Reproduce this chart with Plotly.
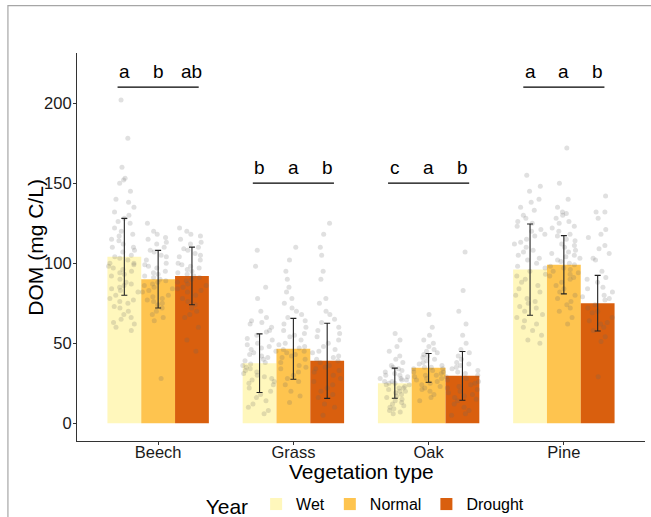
import plotly.graph_objects as go

categories = ["Beech", "Grass", "Oak", "Pine"]
years = ["Wet", "Normal", "Drought"]
colors = ["#FFF7BC", "#FEC44F", "#D95F0E"]

mean_wet = [104, 37.5, 25, 96]
mean_normal = [90, 46.5, 34.6, 99]
mean_drought = [92, 39, 29.6, 75]
sd_wet = [24, 18.3, 9.4, 28.5]
sd_normal = [18, 19, 9, 18.2]
sd_drought = [18, 23.5, 15.2, 17.4]

letters_wet = ["a", "b", "c", "a"]
letters_normal = ["b", "a", "a", "a"]
letters_drought = ["ab", "b", "b", "b"]
letter_y = [220, 160, 160, 220]
bracket_y = [210, 150, 150, 210]

beech_wet = [202, 178, 160, 153, 152, 150, 145, 140, 138, 135, 132, 130, 128, 126, 125, 122, 120,
             118, 117, 115, 114, 112, 110, 110, 108, 107, 105, 104, 103, 102, 100, 100, 99, 98, 97,
             96, 95, 94, 93, 92, 90, 88, 87, 86, 85, 84, 83, 82, 80, 78, 77, 76, 75, 73, 72, 70, 68,
             66, 65, 63, 62, 60, 58]
beech_normal = [125, 120, 118, 116, 115, 113, 112, 110, 108, 107, 105, 104, 102, 100, 99, 98, 97, 95,
                94, 93, 92, 91, 90, 89, 88, 87, 86, 85, 84, 83, 82, 80, 79, 78, 77, 76, 75, 74, 72,
                70, 68, 66, 64, 28]
beech_drought = [122, 120, 118, 117, 115, 113, 112, 110, 109, 108, 106, 105, 104, 102, 100, 99, 98, 97,
                 96, 95, 94, 93, 92, 91, 90, 89, 88, 87, 86, 85, 84, 83, 82, 80, 78, 76, 74, 72, 70,
                 68, 66, 60, 52, 45]
grass_wet = [108, 98, 85, 78, 70, 66, 64, 63, 62, 60, 58, 57, 55, 53, 52, 50, 49, 48, 47, 46, 45, 44,
             43, 42, 41, 40, 39, 38, 37, 36, 35, 34, 33, 32, 31, 30, 29, 28, 27, 26, 25, 24, 22, 20,
             18, 16, 14, 12, 10, 8, 6]
grass_normal = [110, 102, 95, 90, 85, 82, 78, 75, 72, 70, 68, 66, 64, 62, 60, 58, 56, 55, 54, 52, 50,
                49, 48, 47, 46, 45, 44, 43, 42, 41, 40, 38, 36, 35, 34, 32, 30, 28, 26, 24, 20, 17, 13]
grass_drought = [125, 118, 110, 105, 95, 90, 78, 75, 70, 68, 65, 63, 60, 58, 56, 54, 52, 50, 48, 46,
                 45, 44, 42, 41, 40, 39, 38, 36, 35, 34, 33, 32, 30, 28, 26, 24, 22, 20, 18, 16, 12,
                 10, 5]
oak_wet = [56, 52, 48, 45, 42, 40, 38, 36, 35, 34, 33, 32, 31, 30, 30, 29, 28, 28, 27, 27, 26, 26, 25,
           25, 24, 24, 23, 22, 22, 21, 20, 20, 19, 18, 17, 16, 15, 14, 13, 12, 11, 10, 9, 8, 7, 6]
oak_normal = [68, 60, 55, 52, 50, 48, 46, 45, 44, 43, 42, 41, 40, 39, 38, 37, 36, 35, 35, 34, 34, 33,
              32, 32, 31, 30, 30, 29, 28, 28, 27, 26, 25, 24, 23, 22, 21, 20, 18, 16, 14]
oak_drought = [107, 83, 70, 62, 55, 50, 46, 44, 42, 40, 38, 37, 36, 35, 34, 33, 32, 31, 30, 29, 28, 27,
               26, 25, 24, 23, 22, 21, 20, 19, 18, 17, 16, 15, 14, 12, 10, 8, 6, 5]
pine_wet = [155, 148, 145, 140, 138, 135, 133, 130, 128, 126, 125, 123, 121, 120, 118, 117, 115, 113,
            112, 110, 108, 107, 105, 103, 102, 100, 98, 97, 95, 93, 92, 90, 88, 86, 84, 82, 80, 78, 76,
            75, 73, 72, 70, 68, 66, 64, 62, 60, 58, 55, 52, 50]
pine_normal = [172, 150, 140, 135, 132, 131, 130, 128, 126, 125, 123, 122, 120, 118, 117, 115, 114, 112,
               111, 110, 108, 107, 106, 105, 104, 103, 102, 101, 100, 99, 98, 97, 96, 95, 94, 93, 92,
               91, 90, 88, 86, 84, 82, 80, 78, 76, 74, 72, 70, 66, 62]
pine_drought = [142, 132, 132, 128, 121, 118, 116, 111, 109, 106, 103, 102, 95, 91, 90, 88, 85, 84, 82,
                80, 79, 78, 77, 74, 72, 70, 69, 66, 64, 63, 62, 60, 58, 54, 51, 29]

means = [mean_wet, mean_normal, mean_drought]
sds = [sd_wet, sd_normal, sd_drought]
letters = [letters_wet, letters_normal, letters_drought]
points = [
    [beech_wet, grass_wet, oak_wet, pine_wet],
    [beech_normal, grass_normal, oak_normal, pine_normal],
    [beech_drought, grass_drought, oak_drought, pine_drought],
]

FONT = "Liberation Sans, Arial, sans-serif"
bar_w = 0.25
offsets = [-bar_w, 0.0, bar_w]
cat_pos = [i + 1 for i in range(len(categories))]

fig = go.Figure()

for j, yr in enumerate(years):
    xs = [p + offsets[j] for p in cat_pos]
    fig.add_trace(go.Bar(
        x=xs, y=means[j], width=bar_w, name=yr,
        marker=dict(color=colors[j], line=dict(width=0)),
        showlegend=True,
    ))

for j, yr in enumerate(years):
    px, py = [], []
    for i, p in enumerate(cat_pos):
        vals = points[j][i]
        px += [p + offsets[j]] * len(vals)
        py += vals
    fig.add_trace(go.Box(
        x=px, y=py, width=bar_w, boxpoints="all", jitter=1.0, pointpos=0,
        fillcolor="rgba(0,0,0,0)", line=dict(color="rgba(0,0,0,0)", width=0),
        marker=dict(color="rgba(100,100,100,0.2)", size=5),
        showlegend=False, hoverinfo="skip",
    ))

for j, yr in enumerate(years):
    xs = [p + offsets[j] for p in cat_pos]
    fig.add_trace(go.Scatter(
        x=xs, y=means[j], mode="markers",
        marker=dict(size=1, opacity=0),
        error_y=dict(type="data", array=sds[j], color="#222222", thickness=1.1, width=3),
        showlegend=False, hoverinfo="skip",
    ))

annotations = []
shapes = []
for i, p in enumerate(cat_pos):
    for j in range(len(years)):
        annotations.append(dict(
            x=p + offsets[j], y=letter_y[i], xref="x", yref="y", text=letters[j][i],
            showarrow=False, font=dict(family=FONT, size=19, color="black"),
        ))
    shapes.append(dict(
        type="line", xref="x", yref="y", x0=p - 0.3, x1=p + 0.3,
        y0=bracket_y[i], y1=bracket_y[i], line=dict(color="black", width=1.3),
    ))

annotations.append(dict(
    x=-0.0746, y=0.5, xref="paper", yref="paper", text="DOM (mg C/L)", textangle=-90,
    xanchor="center", yanchor="middle",
    showarrow=False, font=dict(family=FONT, size=21, color="black"),
))
annotations.append(dict(
    x=0.5, y=-0.079, xref="paper", yref="paper", text="Vegetation type",
    xanchor="center", yanchor="middle",
    showarrow=False, font=dict(family=FONT, size=21, color="black"),
))

shapes.append(dict(
    type="rect", xref="paper", yref="paper", x0=-0.1216, x1=1.3, y0=-0.5, y1=1.122,
    line=dict(color="#a6a6a6", width=1.2), fillcolor="rgba(0,0,0,0)", layer="above",
))

fig.update_layout(
    width=651, height=517,
    margin=dict(l=77, r=6, t=53, b=76, autoexpand=False),
    paper_bgcolor="white", plot_bgcolor="white",
    font=dict(family=FONT, size=16, color="black"),
    barmode="overlay",
    annotations=annotations,
    shapes=shapes,
    legend=dict(
        orientation="h", x=0.51, xanchor="center", y=-0.168, yanchor="middle",
        title=dict(text="Year", font=dict(family=FONT, size=21, color="black")),
        font=dict(family=FONT, size=16, color="black"),
        itemwidth=30, bgcolor="rgba(0,0,0,0)",
    ),
    xaxis=dict(
        range=[0.4, 4.6], tickvals=cat_pos, ticktext=categories,
        showline=True, linecolor="#333333", linewidth=1.1,
        ticks="outside", ticklen=3, tickcolor="#333333",
        showgrid=False, zeroline=False, ticklabelstandoff=-7,
        tickfont=dict(family=FONT, size=16.5, color="#1a1a1a"),
    ),
    yaxis=dict(
        range=[-11.1, 231.3], tickvals=[0, 50, 100, 150, 200],
        showline=True, linecolor="#333333", linewidth=1.1,
        ticks="outside", ticklen=3, tickcolor="#333333",
        showgrid=False, zeroline=False, ticklabelstandoff=-2,
        tickfont=dict(family=FONT, size=16.5, color="#1a1a1a"),
    ),
)

fig.write_html("out.html")
